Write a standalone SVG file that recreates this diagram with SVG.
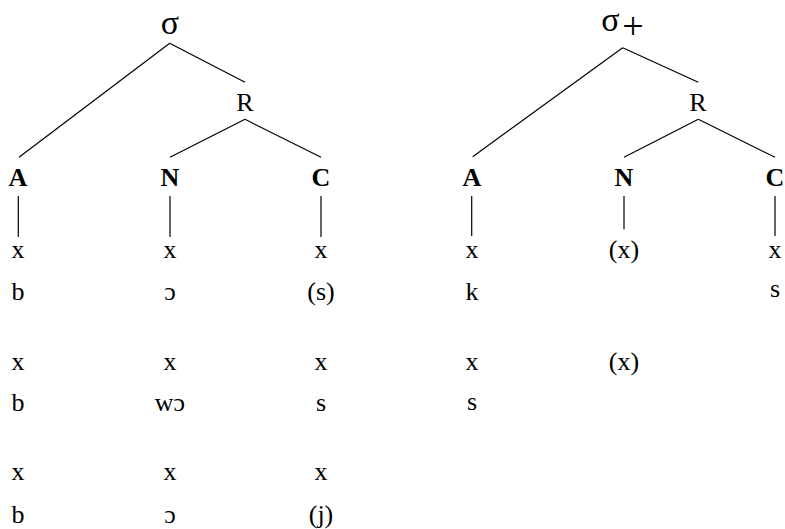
<svg xmlns="http://www.w3.org/2000/svg" width="785" height="529" viewBox="0 0 785 529">
<style>
text{font-family:"Liberation Serif","DejaVu Serif",serif;font-size:26px;fill:#000;text-anchor:middle}
.b{font-weight:bold}
.sig{font-size:34px}
.plus{font-size:38px}
line{stroke:#000;stroke-width:1.2}
</style>
<rect width="785" height="529" fill="#fff"/>
<g id="connectors">
<line x1="169.7" y1="43.3" x2="19" y2="157.3"/>
<line x1="169.7" y1="43.3" x2="245" y2="82.3"/>
<line x1="245" y1="119.3" x2="170" y2="157.3"/>
<line x1="245" y1="119.3" x2="321" y2="157.3"/>
<line x1="18.3" y1="196" x2="18.3" y2="237"/>
<line x1="170" y1="196" x2="170" y2="237"/>
<line x1="321" y1="196" x2="321" y2="237"/>
<line x1="622.7" y1="47.7" x2="472.7" y2="156.7"/>
<line x1="622.7" y1="47.7" x2="698.3" y2="82.3"/>
<line x1="698.3" y1="119.3" x2="624" y2="157.3"/>
<line x1="698.3" y1="119.3" x2="775" y2="157.3"/>
<line x1="471.7" y1="196" x2="471.7" y2="236"/>
<line x1="624" y1="196" x2="624" y2="229.3"/>
<line x1="775" y1="196" x2="775" y2="236"/>
</g>
<g id="sigma1"><text class="sig" x="170" y="34">σ</text></g>
<g id="R1"><text x="245" y="111">R</text></g>
<g id="A1"><text class="b" x="18" y="186">A</text></g>
<g id="N1"><text class="b" x="170" y="186">N</text></g>
<g id="C1"><text class="b" x="321" y="186">C</text></g>
<g id="col1">
<text x="18" y="258">x</text>
<text x="18" y="300">b</text>
<text x="18" y="370">x</text>
<text x="18" y="411">b</text>
<text x="18" y="480">x</text>
<text x="18" y="523">b</text>
</g>
<g id="col2">
<text x="170" y="258">x</text>
<text x="170" y="300">ɔ</text>
<text x="170" y="370">x</text>
<text x="170" y="411">wɔ</text>
<text x="170" y="480">x</text>
<text x="170" y="523">ɔ</text>
</g>
<g id="col3">
<text x="321" y="258">x</text>
<text x="321" y="300">(s)</text>
<text x="321" y="370">x</text>
<text x="321" y="411">s</text>
<text x="321" y="480">x</text>
<text x="321" y="523">(j)</text>
</g>
<g id="sigma2"><text class="sig" x="610.5" y="31">σ</text><text class="plus" x="633" y="39">+</text></g>
<g id="R2"><text x="698" y="111">R</text></g>
<g id="A2"><text class="b" x="472" y="186">A</text></g>
<g id="N2"><text class="b" x="624" y="186">N</text></g>
<g id="C2"><text class="b" x="775" y="186">C</text></g>
<g id="col4">
<text x="472" y="258">x</text>
<text x="472" y="300">k</text>
<text x="472" y="370">x</text>
<text x="472" y="410">s</text>
</g>
<g id="col5">
<text x="624" y="258">(x)</text>
<text x="624" y="370">(x)</text>
</g>
<g id="col6">
<text x="775" y="258">x</text>
<text x="775" y="297">s</text>
</g>
</svg>
